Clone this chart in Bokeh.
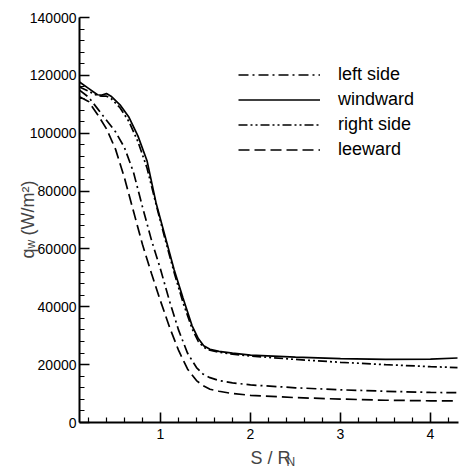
import math
from bokeh.plotting import figure
from bokeh.models import (FixedTicker, NumeralTickFormatter, Legend, LegendItem, Label)
from bokeh.embed import file_html
from bokeh.resources import INLINE

# ---- data ----
x_wind = [0.1, 0.2, 0.3, 0.35, 0.4, 0.45, 0.55, 0.65, 0.75, 0.85, 0.95, 1.05, 1.15, 1.25,
          1.35, 1.42, 1.48, 1.55, 1.65, 1.8, 2.0, 2.5, 3.0, 3.5, 4.0, 4.3]
y_wind = [117700, 115500, 113300, 113200, 113700, 112800, 109800, 105500, 99000, 90500,
          76000, 64500, 53000, 43000, 33500, 29000, 26500, 25300, 24600, 24000, 23300,
          22600, 22100, 21800, 21900, 22300]

x_right = [0.1, 0.2, 0.3, 0.35, 0.4, 0.45, 0.55, 0.65, 0.75, 0.85, 0.95, 1.05, 1.15, 1.25,
           1.35, 1.42, 1.48, 1.55, 1.65, 1.8, 2.0, 2.5, 3.0, 3.5, 4.0, 4.3]
y_right = [116000, 114500, 113000, 112800, 112800, 112000, 108800, 104000, 97000, 88000,
           75500, 63500, 52000, 41500, 32500, 28000, 26000, 25000, 24300, 23600, 23000,
           21800, 20800, 20000, 19300, 19000]

x_left = [0.1, 0.2, 0.3, 0.4, 0.5, 0.6, 0.7, 0.8, 0.9, 1.0, 1.1, 1.2, 1.3, 1.4, 1.47,
          1.55, 1.65, 1.8, 2.0, 2.5, 3.0, 3.5, 4.0, 4.3]
y_left = [114900, 112500, 108500, 104500, 100500, 95000, 86500, 74500, 63000, 53000,
          42000, 32000, 24000, 19000, 16800, 15500, 14500, 13700, 13000, 12000, 11300,
          10800, 10400, 10300]

x_lee = [0.1, 0.2, 0.3, 0.4, 0.5, 0.6, 0.7, 0.8, 0.9, 1.0, 1.1, 1.2, 1.3, 1.4, 1.47,
         1.55, 1.65, 1.8, 2.0, 2.5, 3.0, 3.5, 4.0, 4.3]
y_lee = [112600, 111000, 106500, 101500, 94500, 84500, 73000, 61500, 51500, 42000,
         33000, 25000, 18500, 14500, 12800, 11500, 10800, 10000, 9400, 8600, 8100,
         7700, 7500, 7500]

series_labels = ["left side", "windward", "right side", "leeward"]
x_ticks = [1, 2, 3, 4]
x_minor = [0.2, 0.4, 0.6, 0.8, 1.2, 1.4, 1.6, 1.8, 2.2, 2.4, 2.6, 2.8,
           3.2, 3.4, 3.6, 3.8, 4.2]
y_ticks = [0, 20000, 40000, 60000, 80000, 100000, 120000, 140000]
y_minor = [v for v in range(0, 140001, 4000) if v % 20000 != 0]
x_axis_span = (0.1, 4.31)
y_axis_span = (0, 140000)

FONT = "Liberation Sans"

# ---- geometry: the frame fills the whole figure; axes sit at fixed locations ----
W, H = 462, 467
X0_PX, XSCALE = 70.0, 90.0             # page x of S/R=0, pixels per unit
Y0_PX, YSCALE = 422.0, 405.0 / 140000  # page y of q=0, pixels per W/m2


def dx(px):
    return (px - X0_PX) / XSCALE


def dy(py):
    return (Y0_PX - py) / YSCALE


p = figure(width=W, height=H, output_backend="svg", toolbar_location=None,
           title=None, x_range=(dx(0), dx(W)), y_range=(dy(H), dy(0)),
           min_border=0, min_border_left=0, min_border_right=0, min_border_top=0,
           min_border_bottom=0)
p.outline_line_color = None
p.grid.visible = False
p.background_fill_color = "white"

xa = p.xaxis[0]
ya = p.yaxis[0]
xa.fixed_location = 0
ya.fixed_location = x_axis_span[0]
xa.bounds = x_axis_span
ya.bounds = y_axis_span

for ax in (xa, ya):
    ax.axis_line_width = 2
    ax.axis_line_color = "black"
    ax.major_tick_in = 10
    ax.major_tick_out = 0
    ax.minor_tick_in = 5
    ax.minor_tick_out = 0
    ax.major_tick_line_width = 1.6
    ax.minor_tick_line_width = 1.2
    ax.major_tick_line_color = "black"
    ax.minor_tick_line_color = "black"
    ax.major_label_text_font = FONT
    ax.major_label_text_font_size = "14px"
    ax.major_label_text_color = "black"

xa.ticker = FixedTicker(ticks=x_ticks, minor_ticks=x_minor)
ya.ticker = FixedTicker(ticks=y_ticks, minor_ticks=y_minor)
ya.formatter = NumeralTickFormatter(format="0")
xa.major_label_standoff = 6
ya.major_label_standoff = 3

lw = 1.7
r_left = p.line(x_left, y_left, line_color="black", line_width=lw, line_dash="10 4 2 4")
r_wind = p.line(x_wind, y_wind, line_color="black", line_width=lw)
r_right = p.line(x_right, y_right, line_color="black", line_width=lw, line_dash="9 3 2 3 2 3")
r_lee = p.line(x_lee, y_lee, line_color="black", line_width=lw, line_dash="11 5")

legend = Legend(items=[LegendItem(label=series_labels[0], renderers=[r_left]),
                       LegendItem(label=series_labels[1], renderers=[r_wind]),
                       LegendItem(label=series_labels[2], renderers=[r_right]),
                       LegendItem(label=series_labels[3], renderers=[r_lee])],
                location=(238, H - 162), glyph_width=82, glyph_height=25,
                label_height=25, label_standoff=18, spacing=0, padding=0, margin=0,
                border_line_color=None, background_fill_alpha=0,
                label_text_font=FONT, label_text_font_size="18px",
                label_text_color="black")
p.add_layout(legend)

# ---- axis titles (text with sub/superscripts) ----
p.add_layout(Label(x=dx(250), y=dy(457), text="S / R", text_font=FONT,
                   text_font_size="18px", text_align="left", text_baseline="alphabetic"))
p.add_layout(Label(x=dx(286), y=dy(461), text="N", text_font=FONT,
                   text_font_size="12px", text_align="left", text_baseline="alphabetic"))

p.add_layout(Label(x=dx(27), y=dy(258), text="q", text_font=FONT,
                   text_font_size="18px", angle=math.pi / 2, text_align="left",
                   text_baseline="alphabetic"))
p.add_layout(Label(x=dx(30), y=dy(248), text="w", text_font=FONT,
                   text_font_size="12px", angle=math.pi / 2, text_align="left",
                   text_baseline="alphabetic"))
p.add_layout(Label(x=dx(27), y=dy(235), text="(W/m²)", text_font=FONT,
                   text_font_size="18px", angle=math.pi / 2, text_align="left",
                   text_baseline="alphabetic"))

open("out.html", "w").write(file_html(p, INLINE))
